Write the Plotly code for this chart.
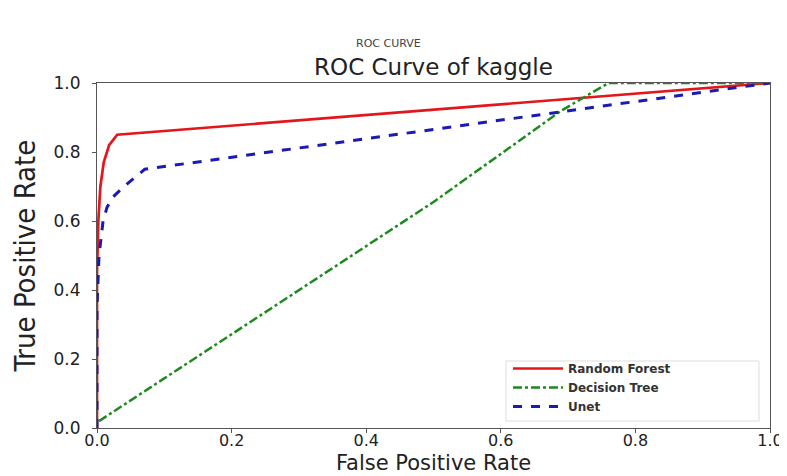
import plotly.graph_objects as go

# Data
rf_fpr = [0.0, 0.0, 0.002, 0.005, 0.01, 0.018, 0.03, 1.0]
rf_tpr = [0.0, 0.45, 0.60, 0.70, 0.77, 0.82, 0.85, 1.0]

dt_fpr = [0.003, 0.5, 0.69, 0.76, 1.0]
dt_tpr = [0.02, 0.655, 0.92, 1.0, 1.0]

un_fpr = [0.0, 0.0, 0.003, 0.009, 0.015, 0.024, 0.04, 0.071, 1.0]
un_tpr = [0.0, 0.35, 0.50, 0.60, 0.64, 0.67, 0.70, 0.75, 1.0]

tick_vals = [0.0, 0.2, 0.4, 0.6, 0.8, 1.0]
tick_text = ["0.0", "0.2", "0.4", "0.6", "0.8", "1.0"]

W, H = 779, 468
L, R, T, B = 89, 17, 75, 48
PW, PH = W - L - R, H - T - B

fig = go.Figure()
fig.add_trace(go.Scatter(x=rf_fpr, y=rf_tpr, mode="lines", name="Random Forest",
                         line=dict(color="#e3161b", width=2.7)))
fig.add_trace(go.Scatter(x=dt_fpr, y=dt_tpr, mode="lines", name="Decision Tree",
                         line=dict(color="#1e8a1e", width=2.5, dash="dashdot")))
fig.add_trace(go.Scatter(x=un_fpr, y=un_tpr, mode="lines", name="Unet",
                         line=dict(color="#1a1ab4", width=3, dash="dash")))

axis_common = dict(range=[0, 1], tickvals=tick_vals, ticktext=tick_text,
                   showgrid=False, zeroline=False, showline=True, mirror=True,
                   linecolor="#555555", linewidth=1.2, ticks="outside", ticklen=4,
                   tickcolor="#555555", automargin=False)

fig.update_layout(
    width=W, height=H,
    margin=dict(l=L, r=R, t=T, b=B),
    paper_bgcolor="white", plot_bgcolor="white",
    title=dict(text="ROC Curve of kaggle", xref="paper", x=0.5, xanchor="center",
               y=1 - 59 / H, yanchor="middle",
               font=dict(family="DejaVu Sans", size=23, color="#222222")),
    xaxis=dict(**axis_common, ticklabelstandoff=-6,
               tickfont=dict(family="DejaVu Sans", size=16, color="#222222"),
               title=dict(text="False Positive Rate", standoff=6,
                          font=dict(family="DejaVu Sans", size=21, color="#222222"))),
    yaxis=dict(**axis_common, ticklabelstandoff=8,
               tickfont=dict(family="DejaVu Sans", size=17, color="#222222"),
               title=dict(text="True Positive Rate", standoff=16,
                          font=dict(family="DejaVu Sans Condensed, DejaVu Sans", size=29, color="#222222"))),
    legend=dict(x=(500 - L) / PW, xanchor="left", y=(H - B - 346) / PH, yanchor="top",
                bgcolor="rgba(0,0,0,0)", borderwidth=0,
                font=dict(family="DejaVu Sans", size=12, color="#333333", weight=600),
                itemwidth=50, tracegroupgap=0),
    showlegend=True,
)

# legend frame
fig.add_shape(type="rect", xref="paper", yref="paper", layer="above",
              x0=(498 - L) / PW, x1=(751 - L) / PW,
              y0=(H - B - 413) / PH, y1=(H - B - 353) / PH,
              fillcolor="white", line=dict(color="#dddddd", width=1))

fig.add_annotation(text="ROC CURVE", xref="paper", yref="paper", x=(380 - L) / PW,
                   y=1 + (T - 36) / PH, showarrow=False, xanchor="center", yanchor="middle",
                   font=dict(family="DejaVu Sans", size=11, color="#444444"))

fig.write_html("out.html")
